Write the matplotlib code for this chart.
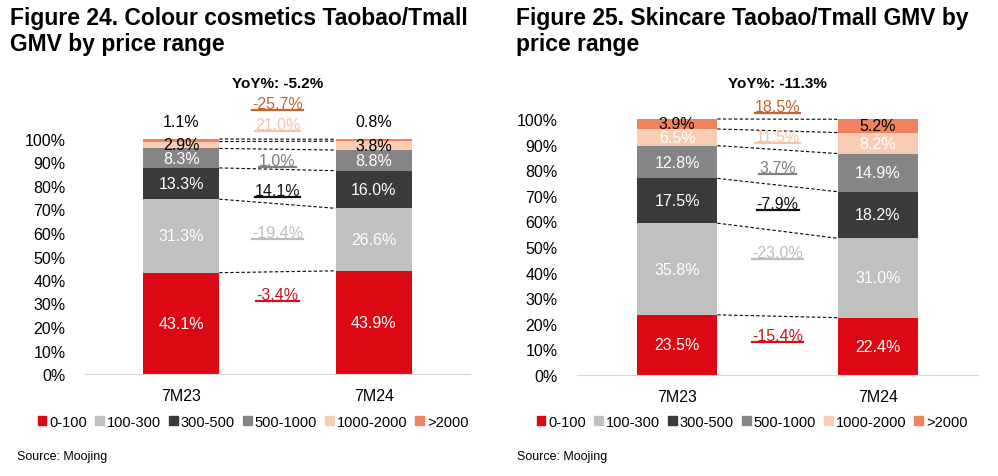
import numpy as np
import matplotlib.pyplot as plt
from matplotlib.patches import Patch

plt.rcParams['font.family'] = ['Liberation Sans', 'DejaVu Sans']

# Data
periods = ["7M23", "7M24"]
ranges = ["0-100", "100-300", "300-500", "500-1000", "1000-2000", ">2000"]

colour_23 = [43.1, 31.3, 13.3, 8.3, 2.9, 1.1]
colour_24 = [43.9, 26.6, 16.0, 8.8, 3.8, 0.8]
colour_yoy = [-3.4, -19.4, 14.1, 1.0, 21.0, -25.7]
colour_total = -5.2

skin_23 = [23.5, 35.8, 17.5, 12.8, 6.5, 3.9]
skin_24 = [22.4, 31.0, 18.2, 14.9, 8.2, 5.2]
skin_yoy = [-15.4, -23.0, -7.9, 3.7, 11.5, 18.5]
skin_total = -11.3

# Styles
seg_colors = ["#dc0814", "#c0c0c0", "#3a3a3a", "#858585", "#f9cdb4", "#f0835e"]
yoy_colors = ["#d0101a", "#bdbdbd", "#111111", "#7f7f7f", "#f5c3aa", "#c8632e"]
FS = 11.5

fig = plt.figure(figsize=(9.98, 4.77), dpi=100)
W, H = 998, 477


def px_axes(x0, x1, ytop, ybot):
    return fig.add_axes([x0 / W, 1 - ybot / H, (x1 - x0) / W, (ybot - ytop) / H])


def draw_panel(ax, v23, v24, yoy, total, ytop, yoy_pos, label_colors, top_outside, barw):
    v23 = np.array(v23) / 100
    v24 = np.array(v24) / 100
    x = np.array([0, 1])
    b23 = np.concatenate([[0], np.cumsum(v23)[:-1]])
    b24 = np.concatenate([[0], np.cumsum(v24)[:-1]])
    for i in range(len(ranges)):
        ax.bar(x, [v23[i], v24[i]], bottom=[b23[i], b24[i]], width=barw,
               color=seg_colors[i], label=ranges[i], zorder=2)
        for xi, v, b in zip(x, [v23[i], v24[i]], [b23[i], b24[i]]):
            if top_outside and i == len(ranges) - 1:
                ax.text(xi, b + v + 0.075, f"{v*100:.1f}%", ha="center", va="center",
                        fontsize=FS, color="black")
            else:
                ax.text(xi, b + v / 2, f"{v*100:.1f}%", ha="center", va="center",
                        fontsize=FS, color=label_colors[i])
        # connector dashed lines between segment tops
        ax.plot([barw / 2, 1 - barw / 2], [b23[i] + v23[i], b24[i] + v24[i]],
                color="black", lw=0.8, ls=(0, (3, 2)), zorder=1)

    # yoy growth labels, underlined
    texts = []
    for i in range(len(ranges)):
        t = ax.text(0.5, yoy_pos[i], f"{yoy[i]:.1f}%", ha="center", va="center",
                    fontsize=FS, color=yoy_colors[i])
        texts.append(t)
    ax.text(0.5, ytop, f"YoY%: {total:.1f}%", ha="center", va="center",
            fontsize=11, fontweight="bold", color="black")

    ax.set_xticks(x)
    ax.set_xticklabels(periods, fontsize=FS)
    ax.set_yticks(np.arange(0, 1.01, 0.1))
    ax.set_yticklabels([f"{int(round(v*100))}%" for v in np.arange(0, 1.01, 0.1)], fontsize=FS)
    ax.tick_params(length=0)
    ax.tick_params(axis="x", pad=10)
    ax.tick_params(axis="y", pad=14)
    for s in ["top", "right", "left"]:
        ax.spines[s].set_visible(False)
    ax.spines["bottom"].set_color("#d9d9d9")
    ax.set_xlim(-0.5, 1.5)
    return texts


ax1 = px_axes(85, 470, 70, 375)
ax1.set_ylim(0, 305 / 235)
t1 = draw_panel(ax1, colour_23, colour_24, colour_yoy, colour_total, 1.24,
                [0.34, 0.60, 0.78, 0.91, 1.06, 1.15],
                ["white", "white", "white", "white", "black", "black"], True, 0.395)

ax2 = px_axes(577, 978, 70, 376)
ax2.set_ylim(0, 306 / 256)
t2 = draw_panel(ax2, skin_23, skin_24, skin_yoy, skin_total, 1.14,
                [0.156, 0.48, 0.668, 0.81, 0.93, 1.047],
                ["white", "white", "white", "white", "white", "black"], False, 0.4)

# underline growth labels
fig.canvas.draw()
r = fig.canvas.get_renderer()
for ax, texts in [(ax1, t1), (ax2, t2)]:
    inv = ax.transData.inverted()
    for t in texts:
        bb = t.get_window_extent(r)
        (xa, ya), (xb, _) = inv.transform([(bb.x0, bb.y0 + 1), (bb.x1, bb.y0)])
        ax.plot([xa, xb], [ya, ya], color=t.get_color(), lw=1.6, zorder=3)

# titles
fig.text(10 / W, 1 - 7 / H, "Figure 24. Colour cosmetics Taobao/Tmall\nGMV by price range",
         ha="left", va="top", fontsize=16.5, fontweight="bold", linespacing=1.15)
fig.text(516 / W, 1 - 7 / H, "Figure 25. Skincare Taobao/Tmall GMV by\nprice range",
         ha="left", va="top", fontsize=16.5, fontweight="bold", linespacing=1.15)

# legends
handles = [Patch(color=c) for c in seg_colors]
for cx in [253, 752]:
    fig.legend(handles, ranges, loc="center", bbox_to_anchor=(cx / W, 1 - 423 / H),
               ncol=6, frameon=False, fontsize=10.5, handlelength=0.6, handleheight=0.6,
               handletextpad=0.2, columnspacing=0.55, borderpad=0)

fig.text(17 / W, 1 - 457 / H, "Source: Moojing", ha="left", va="center", fontsize=9)
fig.text(517 / W, 1 - 457 / H, "Source: Moojing", ha="left", va="center", fontsize=9)

fig.savefig("out.png", dpi=100)
